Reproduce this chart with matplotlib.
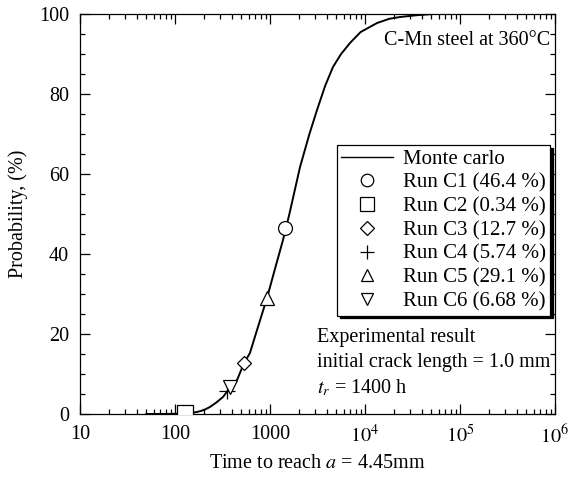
import math

import matplotlib
matplotlib.use("Agg")
import matplotlib.pyplot as plt
from matplotlib.lines import Line2D
from matplotlib.ticker import FixedLocator, FuncFormatter, LogLocator, MultipleLocator

plt.rcParams["font.family"] = ["Liberation Serif", "DejaVu Serif"]
plt.rcParams["mathtext.fontset"] = "stix"
plt.rcParams["font.size"] = 14.5

# Monte Carlo curve (time in h, probability in %)
mc_time = [50, 80, 100, 127, 144, 170, 190, 210, 233, 270, 320, 380, 450, 530,
           615, 730, 930, 1150, 1370, 1600, 2070, 2600, 3125, 3800, 4600, 5600,
           6950, 9000, 13400, 18000, 23400, 35000, 52000, 100000]
mc_prob = [0.0, 0.0, 0.05, 0.15, 0.25, 0.5, 0.8, 1.2, 1.75, 2.8, 4.25, 6.6, 8.5, 12.6,
           15.25, 21.0, 29.0, 37.0, 43.5, 50.0, 61.75, 70.0, 76.0, 82.0, 86.75, 90.0,
           92.75, 95.5, 97.75, 98.8, 99.25, 99.7, 100.0, 100.0]

# experimental runs
run_labels = ["Run C1 (46.4 %)", "Run C2 (0.34 %)", "Run C3 (12.7 %)",
              "Run C4 (5.74 %)", "Run C5 (29.1 %)", "Run C6 (6.68 %)"]
run_time = [1450, 127, 532, 352, 929, 380]
run_prob = [46.4, 0.34, 12.7, 5.74, 29.1, 6.68]
run_marker = ["o", "s", "D", "+", "^", "v"]
run_size = [10, 11, 7.5, 11, 9.5, 9.5]

fig = plt.figure(figsize=(5.69, 4.78), dpi=100)
ax = fig.add_axes([0.1406, 0.1339, 0.8348, 0.8368])

ax.plot(mc_time, mc_prob, color="black", lw=1.4, zorder=2)
for t, p, m, s in zip(run_time, run_prob, run_marker, run_size):
    ax.plot(t, p, marker=m, ms=s, mfc="white" if m != "+" else "black",
            mec="black", mew=0.9, ls="none", zorder=3)

ax.set_xscale("log")
ax.set_xlim(10, 1e6)
ax.set_ylim(0, 100)

ax.xaxis.set_major_locator(FixedLocator([10, 100, 1000, 1e4, 1e5, 1e6]))
ax.xaxis.set_minor_locator(LogLocator(base=10, subs=range(2, 10)))


def xfmt(v, pos):
    if v < 1e4:
        return f"{int(round(v))}"
    return rf"$10^{{{int(round(math.log10(v)))}}}$"


ax.xaxis.set_major_formatter(FuncFormatter(xfmt))
ax.xaxis.set_minor_formatter(FuncFormatter(lambda v, p: ""))
ax.yaxis.set_major_locator(MultipleLocator(20))
ax.yaxis.set_minor_locator(MultipleLocator(5))

ax.tick_params(which="both", direction="in", top=True, right=True, width=0.9)
ax.tick_params(which="major", length=7, pad=8)
ax.tick_params(which="minor", length=3.5)
for sp in ax.spines.values():
    sp.set_linewidth(0.9)

ax.set_xlabel("Time to reach $a$ = 4.45mm", labelpad=4)
ax.set_ylabel("Probability, (%)", labelpad=8)

ax.text(0.99, 0.935, "C-Mn steel at 360°C", transform=ax.transAxes,
        ha="right", va="center", fontsize=14.5)
note_kw = dict(transform=ax.transAxes, ha="left", va="center", fontsize=14.5)
ax.text(0.498, 0.19, "Experimental result", **note_kw)
ax.text(0.498, 0.128, "initial crack length = 1.0 mm", **note_kw)
ax.text(0.498, 0.066, "$t_r$ = 1400 h", **note_kw)

handles = [Line2D([], [], color="black", lw=1.0)]
for m, s in zip(run_marker, run_size):
    handles.append(Line2D([], [], marker=m, ms=s * 0.9, mfc="white" if m != "+" else "black",
                          mec="black", mew=0.9, ls="none"))
leg = ax.legend(handles, ["Monte carlo"] + run_labels, loc="upper left",
                bbox_to_anchor=(0.541, 0.672), borderaxespad=0, frameon=True,
                fancybox=False, shadow={"color": "black", "alpha": 1},
                handlelength=2.5, handletextpad=0.45, labelspacing=0.2,
                borderpad=0.2, fontsize=15)
leg.get_frame().set_edgecolor("black")
leg.get_frame().set_linewidth(0.9)

fig.savefig("out.png", dpi=100)
